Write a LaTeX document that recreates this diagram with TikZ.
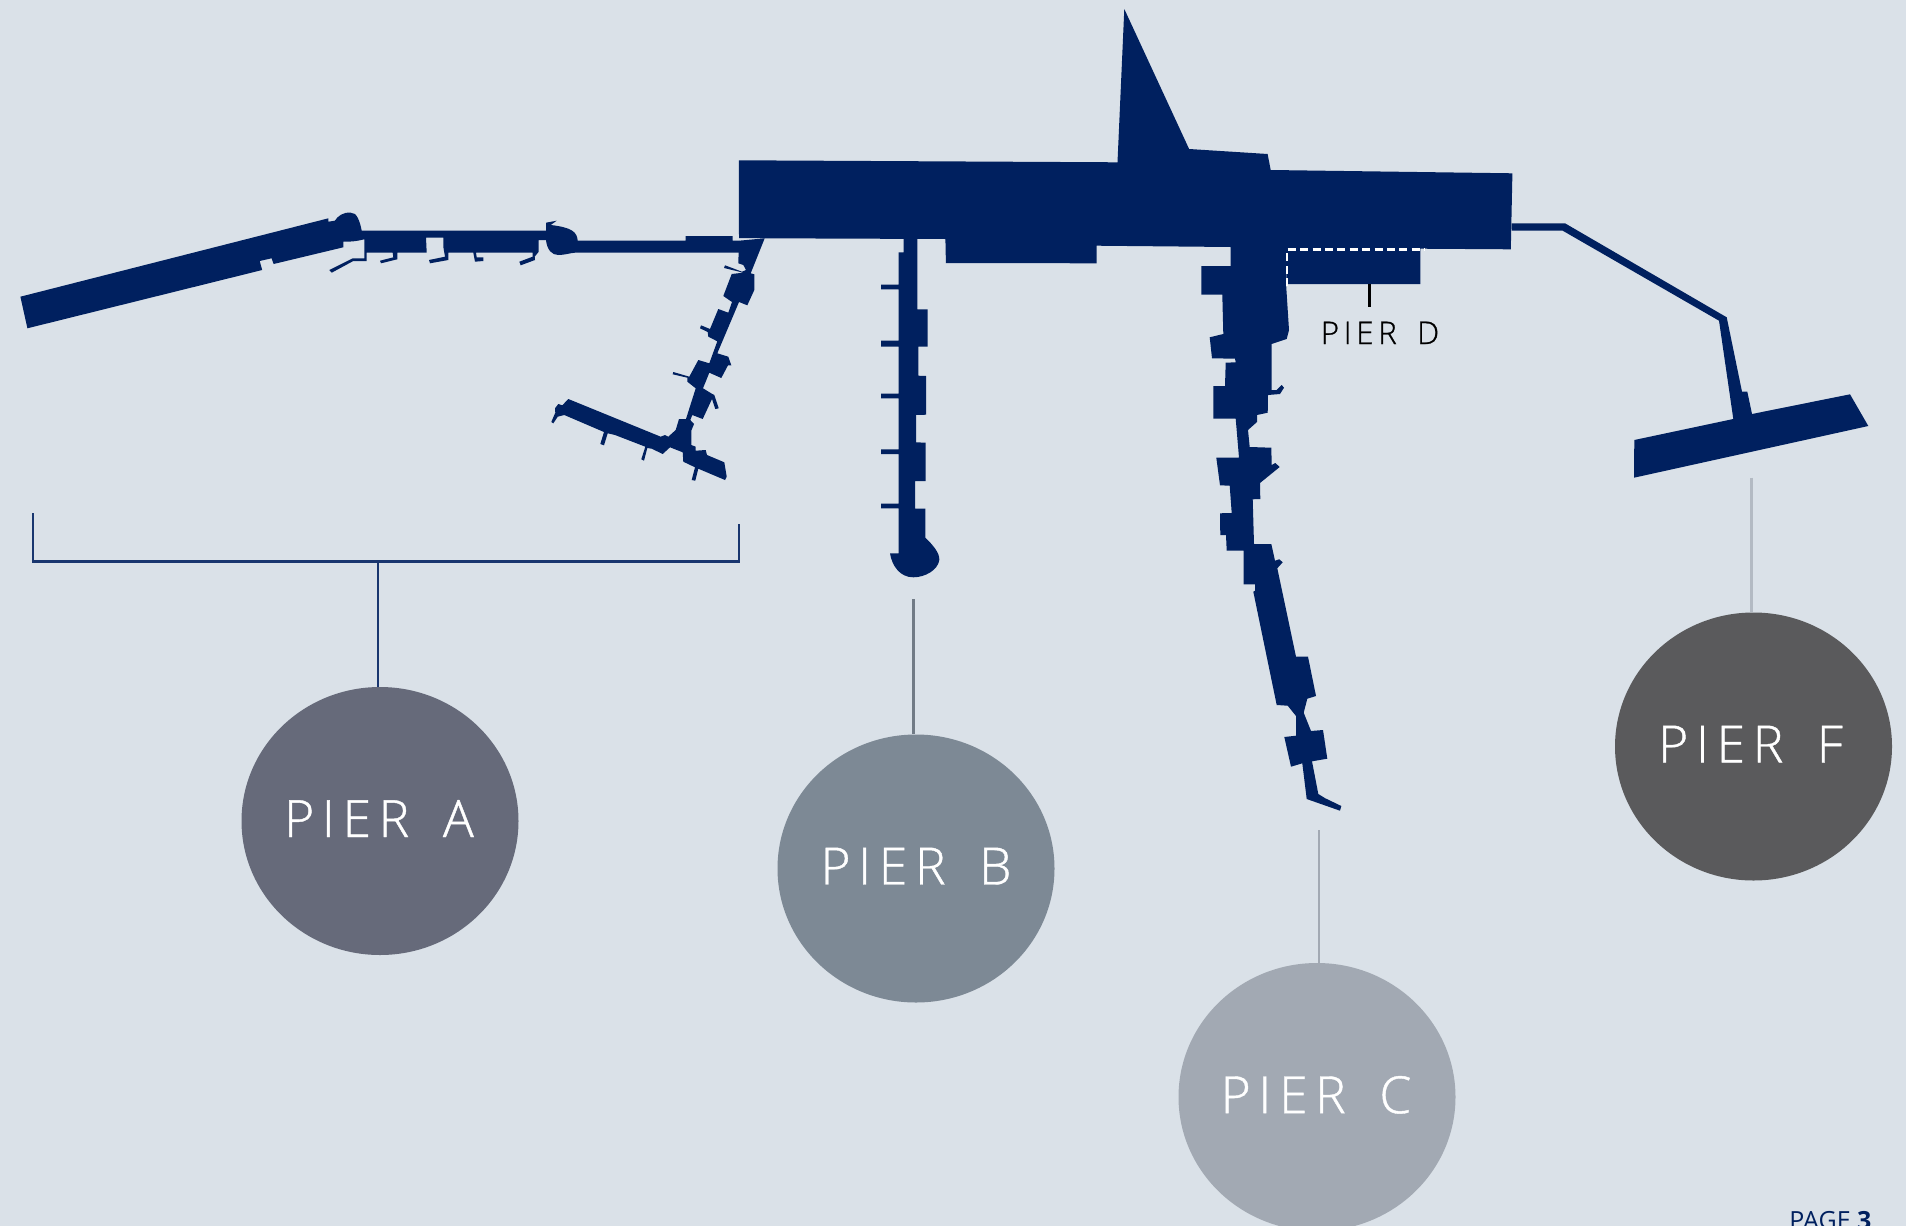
\documentclass[tikz,border=0pt]{standalone}
\usepackage{fontspec}
\setmainfont{Open Sans}
\newfontfamily\pierfont[LetterSpace=15,WordSpace=1.6,FakeBold=0.8]{Open Sans Light}
\usetikzlibrary{shapes.geometric}
\definecolor{navy}{HTML}{00205F}
\definecolor{paper}{HTML}{DAE1E8}
\definecolor{greyA}{HTML}{666A7A}
\definecolor{greyB}{HTML}{7D8995}
\definecolor{greyC}{HTML}{A2A9B3}
\definecolor{greyF}{HTML}{5A5A5C}
\begin{document}
\begin{tikzpicture}[x=.5pt,y=-.5pt,
    pierdisc/.style={ellipse,minimum width=138.5pt,minimum height=134pt,inner sep=0pt,text depth=2.4pt,text=white,font=\pierfont\fontsize{25.7pt}{30pt}\selectfont},
    stemline/.style={line width=1.2pt},
    bracketline/.style={draw=navy!90,line width=1.2pt}]
  \clip (0,0) rectangle (1906,1226);
  \fill[paper] (0,0) rectangle (1906,1226);
  \fill[navy] (738.8,160.3)--(1117.5,162.3)--(1124.3,9)--(1189.1,149)--(1267.6,154)--(1270.7,170)--(1512.4,173.3)--(1510.8,249.3)--(1420.3,248.7)--(1420.3,284)--(1286.4,284)--(1286,247.5)--(1230.5,247)--(1096.6,245.7)--(1096.6,263.3)--(945.9,263)--(945.4,239)--(764.7,238.3)--(739,238)--cycle;
  \fill[navy] (739,240.7)--(732.7,240.7)--(732.7,236)--(685.7,236)--(685.7,240.7)--(577.7,240.7)
    .. controls (577,232) and (572,227.5) .. (550.7,225)--(556.7,220.7)--(546,222.7)--(546,230.7)--(361.7,230.7)
    .. controls (360,222) and (357,212) .. (350.7,212.7) .. controls (343,212) and (338,216) .. (334.8,220.7)
    --(328.4,221.7)--(328.4,218.3)--(20.4,296.7)--(27.4,328.3)--(262.2,270)--(259.7,261)--(271.6,258.3)--(273.6,264)--(343.3,247.3)--(343.3,241.7)
    .. controls (350,242) and (358,241) .. (364.3,239.3)--(364.3,258.3)--(352.7,258.3)--(329.3,270)--(331.7,272.7)--(353.3,261)--(366.7,261)--(366.7,252.7)
    --(392.7,252.7)--(393.3,257.3)--(380,260.7)--(381,263.3)--(397.3,259.3)--(397.3,252.7)--(426.7,252.7)--(426,237.7)--(443.3,237.7)--(443.3,246.7)--(445,256.7)
    --(429,260)--(430,263.3)--(448.3,260)--(448.3,252.7)--(473.3,252.7)--(475,261.7)--(483.3,261)--(483.3,257.3)--(476.7,257.3)--(476,252.7)
    --(532.7,252.7)--(532.7,256.7)--(519.3,261.7)--(520.7,265.3)--(535,260)--(534.7,256.7)--(538.7,251.7)--(538.7,240)--(546,240)
    .. controls (547,250) and (552,255) .. (558.3,255) .. controls (565,255) and (570,253) .. (575,252.7)--(739,252.7)--cycle;
  \fill[navy] (764.7,238.3)--(750.7,273.3)--(754.3,274.3)--(754.3,290)--(747.3,305.3)--(739,302)--(717.3,353.3)--(728.3,356.7)--(731.3,365.3)--(728,365.3)--(721.3,378)--(709.3,372.7)--(703,388.3)--(712.3,394)--(714.3,395)--(718.7,408.3)--(715.3,409)--(712,399)--(702.7,419)--(692.3,415)--(690.3,420)--(694,424)--(691.3,430.7)--(691.3,445)--(695.7,446.7)--(695.7,450.7)--(705.7,450)--(707,455)--(724.3,462.3)--(726.7,476.7)--(725,480)--(698.3,468.7)--(695.3,480.7)--(691.7,480)--(695,467.3)--(683.3,461.7)--(682.7,452.3)--(670,447.3)--(662.7,454)--(651.7,448.7)--(647.3,448)--(644,460.7)--(641.3,459.3)--(645.3,446.7)--(615,435)--(607.7,433.3)--(604,445.3)--(600.3,444)--(604,432)--(564.3,415)--(557.7,416.7)--(553.3,423.3)--(551.3,422)--(555.3,412.7)--(555,408.3)--(558.3,404)--(562.3,405.3)--(568.3,399)--(660.7,436.7)--(665,435)--(668.3,436.7)--(675.7,430)--(679,419)--(686,419)--(695.7,388.3)--(687.3,381.7)--(687.3,377.7)--(672.7,374.3)--(673.3,372)--(689.3,376.7)--(698.3,360)--(709.3,363.3)--(717.3,341.3)--(708.3,336.7)--(707.7,332)--(700,328.3)--(701,325.3)--(710,329)--(718.3,309)--(728.3,312.7)--(732,302)--(723.3,296)--(731.7,274)--(743.3,272.7)--(724,268)--(725,265.3)--(742,271.7)--(746,270)--(743.3,265)--(738.3,263.3)--(739,240.7)--cycle;
  \fill[navy] (917.3,238)--(917.3,309.3)--(927.7,309.3)--(927.7,346.7)--(918.3,346.7)--(918.3,375.7)--(926,376)--(926,414.7)--(916,415)--(916,442.3)--(925.7,442.7)--(925.7,481)--(915,481)--(915,508.7)--(925.3,508.7)--(925.3,537.7)
    .. controls (932,544) and (940,553) .. (939.3,560) .. controls (938,570) and (925,577.3) .. (913.3,577.3) .. controls (900,577.3) and (892,566) .. (890,553.3)
    --(898.7,553.3)--(898.7,508.3)--(881,508.3)--(881,503.7)--(898.7,503.7)--(898.7,454)--(881,454)--(881,449.3)--(898.7,449.3)--(898.7,398.3)--(881,398.3)--(881,393.7)--(898.7,393.7)--(898.7,346.7)--(881,346.7)--(881,340.7)--(898.7,340.7)--(898.7,289.3)--(881,289.3)--(881,284.7)--(898.7,284.7)--(898.7,252.3)--(903.7,252.3)--(903.7,238)--cycle;
  \fill[navy] (1230.7,240)--(1286,240)--(1286,283.3)--(1289,330)--(1286.7,339)--(1271.7,344)--(1271.7,390)--(1276.7,390)--(1281.7,385)--(1284,387.7)--(1280,394)--(1268,395)--(1267.7,412.7)--(1257,415)--(1257,422)--(1248,430)--(1249.7,447)--(1271.3,447.7)--(1271.7,465)--(1275.3,463)--(1279.7,467)--(1260,483)--(1260.3,499)--(1252.7,499.3)--(1254,544)--(1271.3,544)--(1275,560.7)--(1279.3,559.3)--(1282.7,562.3)--(1277.3,568.3)--(1296,656.7)--(1308,656.7)--(1316,696)--(1307.3,698.7)--(1303.7,712.7)--(1311,731)--(1323,730)--(1327.3,758.7)--(1312,761.3)--(1318.3,794)--(1325.3,798.3)--(1341.3,806)--(1340,810.7)--(1306.7,799)--(1302.3,763.3)--(1291,766.7)--(1284.3,737)--(1296,735.7)--(1296,716)--(1287.7,705.7)--(1276.7,705)--(1253.3,591.7)--(1255,590.7)--(1255,584.3)--(1243.7,584.3)--(1243.7,550.7)--(1226.7,550.7)--(1226,535)--(1220.3,535)--(1220,513.3)--(1231.7,513)--(1229.7,485.7)--(1220,485.3)--(1216.3,457.7)--(1239,457.7)--(1235.7,418.7)--(1213.3,418.7)--(1213.3,386)--(1225,386)--(1225.7,362.7)--(1235.7,362.3)--(1235,358.7)--(1212,358.3)--(1209.7,337.3)--(1223.3,334)--(1222.3,294.7)--(1201.3,294.7)--(1201.3,266)--(1230.7,266)--cycle;
  \fill[navy] (1511.7,223.3)--(1565,223.3)--(1726.7,317.3)--(1742,391.7)--(1747.3,391.7)--(1752,414)--(1850,394.3)--(1868.3,426)--(1634,477.7)--(1634.3,440)--(1733.3,419)--(1719,320.7)--(1562.7,230.7)--(1511.7,230.7)--cycle;
  \draw[white,line width=1.2pt,dash pattern=on 4pt off 2.2pt] (1287,286)--(1287,249.5)--(1425,249.5);
  \node[pierdisc,fill=greyA] (pierA) at (380,821) {\hspace*{-1pt}PIER A};
  \node[pierdisc,fill=greyB] (pierB) at (916,868.5) {PIER B};
  \node[pierdisc,fill=greyC] (pierC) at (1317,1097) {\hspace*{-1pt}PIER C};
  \node[pierdisc,fill=greyF] (pierF) at (1753.5,746.5) {\hspace*{-3pt}PIER F};
  \node[anchor=base,inner sep=0pt,font=\pierfont\fontsize{15.6pt}{18pt}\selectfont,text=black] (pierD) at (1380,344) {PIER D};
  \node[anchor=base west,inner sep=0pt,text=navy,font=\fontsize{12.5pt}{14pt}\selectfont] (pagenum) at (1789,1229) {PAGE \textbf{3}};
  \coordinate (bracketTL) at (33,513);
  \coordinate (bracketBL) at (33,561.3);
  \coordinate (bracketBR) at (739,561.3);
  \coordinate (bracketTR) at (739,524);
  \coordinate (stemA) at (378,561.3);
  \coordinate (stemB) at (913.5,599);
  \coordinate (stemC) at (1318.8,830);
  \coordinate (stemF) at (1751.3,477.7);
  \coordinate (stemD) at (1369.3,284);
  \coordinate (stemDend) at (1369.3,306.7);
  \draw[bracketline] (bracketTL)--(bracketBL)--(bracketBR)--(bracketTR);
  \draw[stemline,draw=navy!90] (stemA)--(stemA |- pierA.north);
  \draw[stemline,draw=greyB!90!black] (stemB)--(stemB |- pierB.north);
  \draw[stemline,draw=greyC] (stemC)--(stemC |- pierC.north);
  \draw[stemline,draw=greyC!70!paper] (stemF)--(stemF |- pierF.north);
  \draw[line width=1.3pt,black] (stemD)--(stemDend);
\end{tikzpicture}
\end{document}
